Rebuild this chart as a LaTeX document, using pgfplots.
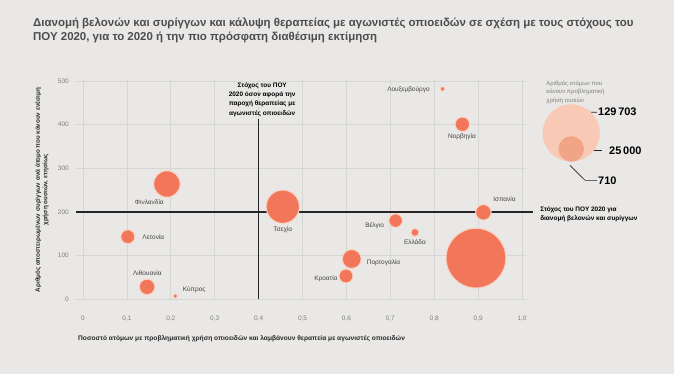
\documentclass[border=0pt]{standalone}
\usepackage{fontspec}
\setmainfont{Liberation Sans}
\usepackage{pgfplots}
\pgfplotsset{compat=1.18}
\definecolor{bgc}{HTML}{E9E8E6}
\definecolor{gridc}{HTML}{D6D6D4}
\definecolor{coral}{HTML}{F2775A}
\definecolor{halo}{HTML}{FAD2C2}
\definecolor{legbig}{HTML}{F8C9B4}
\definecolor{legmed}{HTML}{F2A486}
\definecolor{tickc}{HTML}{808080}
\definecolor{titlec}{HTML}{4D4D4D}
\definecolor{labc}{HTML}{444444}
\pgfplotstableread{
x y n
0.819 482 850
0.864 401 8510
0.191 264 28250
0.455 212 44540
0.912 199 9716
0.102 143 7825
0.146 28 9716
0.712 180 7385
0.756 153 2555
0.612 92 14410
0.599 53 7825
0.895 94 143700
0.210 7 710
}\bubbles
\begin{document}
\begin{tikzpicture}
\useasboundingbox[fill=bgc] (0bp,0bp) rectangle (674bp,374bp);
\node[anchor=base west, align=left, font=\fontsize{11.5}{14.5}\selectfont\bfseries, text=titlec, inner sep=0pt] at (33bp,333bp)
{Διανομή βελονών και συρίγγων και κάλυψη θεραπείας με αγωνιστές οπιοειδών σε σχέση με τους στόχους του\\ΠΟΥ 2020, για το 2020 ή την πιο πρόσφατη διαθέσιμη εκτίμηση};
\begin{axis}[
  at={(76bp,74bp)}, anchor=south west,
  scale only axis, width=450bp, height=219.8bp,
  xmin=-0.016, xmax=1.009, ymin=-2, ymax=502,
  clip=false,
  axis line style={draw=none},
  tick style={draw=none},
  grid=major,
  major grid style={color=gridc, line width=0.7bp},
  xtick={0,0.1,...,1.0},
  xticklabels={0,{0,1},{0,2},{0,3},{0,4},{0,5},{0,6},{0,7},{0,8},{0,9},{1,0}},
  ytick={0,100,...,500},
  /pgf/number format/assume math mode=true,
  xticklabel style={font=\fontsize{6.5}{7}\selectfont, text=tickc, anchor=base, yshift=-21bp},
  yticklabel style={font=\fontsize{6.5}{7}\selectfont, text=tickc, anchor=east, inner sep=0pt, xshift=-7bp},
]
% target lines
\addplot[color=black!85, line width=1.2bp] coordinates {(0.4,0) (0.4,414)};
\addplot[color=black!85, line width=1.2bp] coordinates {(-0.016,200) (1.025,200)};
% bubbles
\addplot[scatter, only marks, mark=*,
  scatter/use mapped color={draw=halo, fill=coral},
  line width=1bp,
  visualization depends on={28.5*sqrt(\thisrow{n}/129703) \as \rad},
  scatter/@pre marker code/.append style={/tikz/mark size=\rad}]
  table[x=x, y=y] {\bubbles};
% legend circles
\addplot[only marks, mark=*, mark size=28.5pt, color=legbig] coordinates {(1.112,381)};
\addplot[only marks, mark=*, mark size=12.5pt, color=legmed] coordinates {(1.112,344.4)};
\addplot[only marks, mark=*, mark size=2.1pt, color=legmed] coordinates {(1.112,320.6)};
% legend leader lines
\draw[black!85, line width=0.6bp] (axis cs:1.1396,413.5) -- (axis cs:1.1549,428.6) -- (axis cs:1.1702,428.6);
\draw[black!85, line width=0.6bp] (axis cs:1.1132,341) -- (axis cs:1.1815,341);
\draw[black!85, line width=0.6bp] (axis cs:1.1093,306.6) -- (axis cs:1.1435,272.3) -- (axis cs:1.1702,272.3);
% legend text
\node[anchor=west, align=left, font=\fontsize{6}{8.3}\selectfont, text=tickc, inner sep=0pt] at (axis cs:1.055,474.4) {Αριθμός ατόμων που\\κάνουν προβληματική\\χρήση ουσιών};
\node[anchor=west, font=\fontsize{11}{12}\selectfont\bfseries, inner sep=0pt] at (axis cs:1.173,428.6) {129\,703};
\node[anchor=west, font=\fontsize{11}{12}\selectfont\bfseries, inner sep=0pt] at (axis cs:1.198,341) {25\,000};
\node[anchor=west, font=\fontsize{11}{12}\selectfont\bfseries, inner sep=0pt] at (axis cs:1.173,272.3) {710};
% target annotations
\node[align=center, font=\fontsize{6.5}{9.3}\selectfont\bfseries, inner sep=0pt] at (axis cs:0.408,457.7) {Στόχος του ΠΟΥ\\2020 όσον αφορά την\\παροχή θεραπείας με\\αγωνιστές οπιοειδών};
\node[anchor=west, align=left, font=\fontsize{6.5}{9.3}\selectfont\bfseries, inner sep=0pt] at (axis cs:1.041,194.5) {Στόχος του ΠΟΥ 2020 για\\διανομή βελονών και συρίγγων};
% country labels
\tikzset{cl/.style={font=\fontsize{6.5}{7}\selectfont, text=labc, inner sep=0pt}}
\node[cl, anchor=east] at (axis cs:0.790,480.5) {Λουξεμβούργο};
\node[cl] at (axis cs:0.863,373) {Νορβηγία};
\node[cl] at (axis cs:0.151,222.7) {Φινλανδία};
\node[cl] at (axis cs:0.455,159.5) {Τσεχία};
\node[cl, anchor=west] at (axis cs:0.135,142.6) {Λετονία};
\node[cl] at (axis cs:0.1465,58.8) {Λιθουανία};
\node[cl, anchor=west] at (axis cs:0.227,20.6) {Κύπρος};
\node[cl, anchor=east] at (axis cs:0.580,45.8) {Κροατία};
\node[cl, anchor=west] at (axis cs:0.646,84) {Πορτογαλία};
\node[cl, anchor=east] at (axis cs:0.686,169.3) {Βέλγιο};
\node[cl] at (axis cs:0.756,131.1) {Ελλάδα};
\node[cl] at (axis cs:0.960,228.8) {Ισπανία};
\node[cl] at (axis cs:0.895,57.2) {Γαλλία};
\end{axis}
% axis titles
\node[anchor=west, font=\fontsize{6.65}{7}\selectfont\bfseries, text=black!85, inner sep=0pt] at (78bp,35bp)
{Ποσοστό ατόμων με προβληματική χρήση οπιοειδών και λαμβάνουν θεραπεία με αγωνιστές οπιοειδών};
\node[rotate=90, align=center, font=\fontsize{6.3}{7.5}\selectfont\bfseries, text=black!85, inner sep=0pt] at (42bp,184bp)
{Αριθμός αποστειρωμένων συρίγγων ανά άτομο που κάνουν ενέσιμη\\χρήση ουσιών, ετησίως};
\end{tikzpicture}
\end{document}
